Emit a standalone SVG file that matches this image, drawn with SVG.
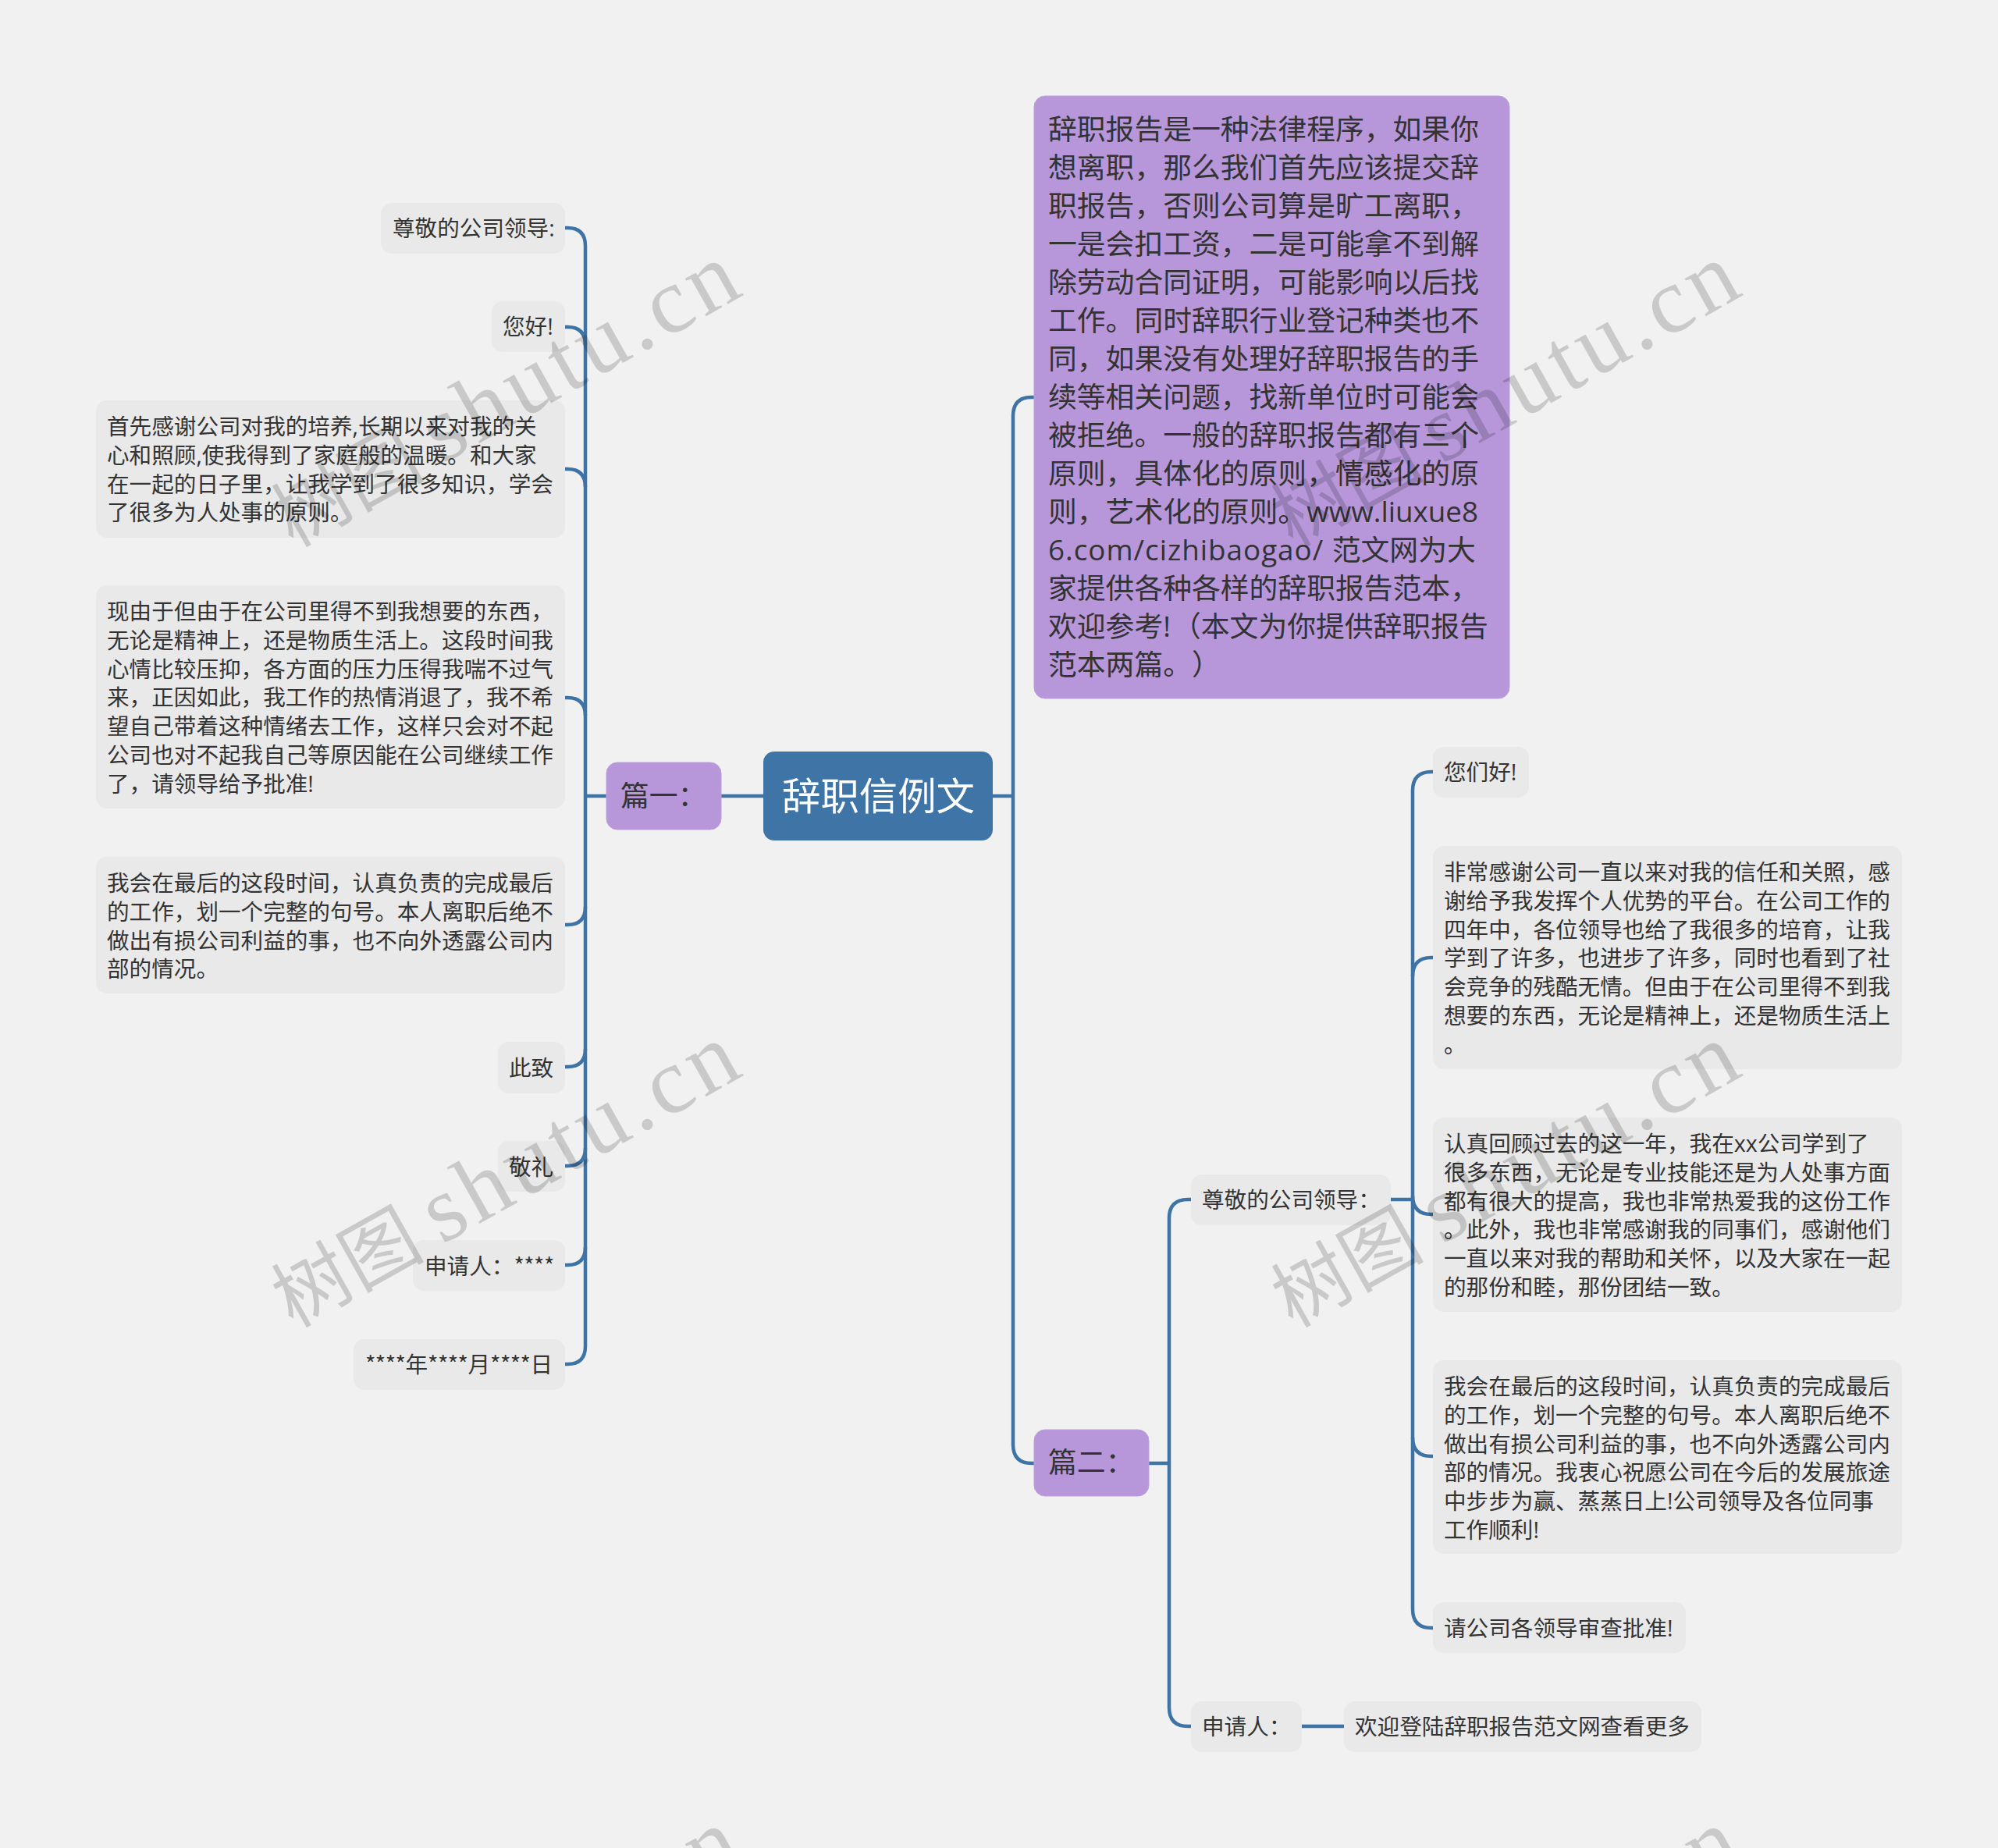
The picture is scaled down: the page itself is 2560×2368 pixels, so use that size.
<svg xmlns="http://www.w3.org/2000/svg" width="2560" height="2368" viewBox="0 0 2560 2368">
<style>
text{font-family:"Open Sans","Noto Sans CJK SC",sans-serif;fill:#333}
.leaf{fill:#e9e9e9}
.pur{fill:#b797da;stroke:#bd9fdf;stroke-width:1}
.s{font-size:28.6px}
.m{font-size:36.8px}
.r{font-size:49.4px;fill:#fff}
.c{fill:none;stroke:#3d74a5;stroke-width:4.5;stroke-linecap:butt}
.star{font-family:"Noto Sans CJK SC",sans-serif;letter-spacing:-.5px}
text.wm{font-family:"Noto Sans CJK SC",sans-serif;font-size:98px;fill:#000;fill-opacity:.165}
.wl{font-family:"Liberation Serif",serif;font-size:120px;letter-spacing:6px}
</style>
<rect width="2560" height="2368" fill="#f1f1f1"/>
<g id="connectors" class="c">
<path d="M1272 1020H1298"/>
<path d="M1325 509H1322Q1298 509 1298 533V1851Q1298 1875 1322 1875H1325"/>
<path d="M978 1020H924"/>
<path d="M777 1020H750"/>
<path d="M724 292H727Q750 292 750 315V1725Q750 1748 727 1748H724"/>
<path d="M724 419H727Q750 419 750 442"/>
<path d="M724 601H727Q750 601 750 624"/>
<path d="M724 894H727Q750 894 750 917"/>
<path d="M724 1185H727Q750 1185 750 1162"/>
<path d="M724 1367H727Q750 1367 750 1344"/>
<path d="M724 1494H727Q750 1494 750 1471"/>
<path d="M724 1621H727Q750 1621 750 1598"/>
<path d="M1472 1875H1498"/>
<path d="M1526 1537H1522Q1498 1537 1498 1561V2188Q1498 2212 1522 2212H1526"/>
<path d="M1668 2212H1722"/>
<path d="M1782 1537H1810"/>
<path d="M1836 989H1834Q1810 989 1810 1013V2062Q1810 2086 1834 2086H1836"/>
<path d="M1836 1227H1834Q1810 1227 1810 1251"/>
<path d="M1836 1556H1834Q1810 1556 1810 1532"/>
<path d="M1836 1866H1834Q1810 1866 1810 1842"/>
</g>
<g id="root"><rect x="978" y="963" width="294" height="114" rx="14" fill="#3e75a6"/><text class="r" x="1002" y="1038">辞职信例文</text></g>
<g id="p1"><rect class="pur" x="777" y="977" width="147" height="86" rx="14"/><text class="m" x="795" y="1033">篇一：</text></g>
<g id="p2"><rect class="pur" x="1325" y="1832" width="147" height="85" rx="14"/><text class="m" x="1343" y="1887">篇二：</text></g>
<g id="intro"><rect class="pur" x="1325" y="123" width="609" height="772" rx="14"/>
<text class="m"><tspan x="1343" y="179">辞职报告是一种法律程序，如果你</tspan><tspan x="1343" dy="49">想离职，那么我们首先应该提交辞</tspan><tspan x="1343" dy="49">职报告，否则公司算是旷工离职，</tspan><tspan x="1343" dy="49">一是会扣工资，二是可能拿不到解</tspan><tspan x="1343" dy="49">除劳动合同证明，可能影响以后找</tspan><tspan x="1343" dy="49">工作。同时辞职行业登记种类也不</tspan><tspan x="1343" dy="49">同，如果没有处理好辞职报告的手</tspan><tspan x="1343" dy="49">续等相关问题，找新单位时可能会</tspan><tspan x="1343" dy="49">被拒绝。一般的辞职报告都有三个</tspan><tspan x="1343" dy="49">原则，具体化的原则，情感化的原</tspan><tspan x="1343" dy="49">则，艺术化的原则。www.liuxue8</tspan><tspan x="1343" dy="49" letter-spacing="1">6.com/cizhibaogao/ </tspan><tspan>范文网为大</tspan><tspan x="1343" dy="49">家提供各种各样的辞职报告范本，</tspan><tspan x="1343" dy="49">欢迎参考!</tspan><tspan x="1502">（本文为你提供辞职报告</tspan><tspan x="1343" dy="49">范本两篇。</tspan><tspan x="1527">）</tspan></text></g>
<g id="l1"><rect class="leaf" x="488" y="260" width="236" height="65" rx="14"/><text class="s" x="503" y="303">尊敬的公司领导:</text></g>
<g id="l2"><rect class="leaf" x="630" y="386" width="94" height="65" rx="14"/><text class="s" x="644" y="429">您好!</text></g>
<g id="l3"><rect class="leaf" x="123" y="513" width="601" height="176" rx="14"/>
<text class="s"><tspan x="137" y="557">首先感谢公司对我的培养,长期以来对我的关</tspan><tspan x="137" dy="36.8">心和照顾,使我得到了家庭般的温暖。和大家</tspan><tspan x="137" dy="36.8">在一起的日子里，让我学到了很多知识，学会</tspan><tspan x="137" dy="36.8">了很多为人处事的原则。</tspan></text></g>
<g id="l4"><rect class="leaf" x="123" y="750" width="601" height="286" rx="14"/>
<text class="s"><tspan x="137" y="794">现由于但由于在公司里得不到我想要的东西，</tspan><tspan x="137" dy="36.8">无论是精神上，还是物质生活上。这段时间我</tspan><tspan x="137" dy="36.8">心情比较压抑，各方面的压力压得我喘不过气</tspan><tspan x="137" dy="36.8">来，正因如此，我工作的热情消退了，我不希</tspan><tspan x="137" dy="36.8">望自己带着这种情绪去工作，这样只会对不起</tspan><tspan x="137" dy="36.8">公司也对不起我自己等原因能在公司继续工作</tspan><tspan x="137" dy="36.8">了，请领导给予批准!</tspan></text></g>
<g id="l5"><rect class="leaf" x="123" y="1098" width="601" height="175" rx="14"/>
<text class="s"><tspan x="137" y="1142">我会在最后的这段时间，认真负责的完成最后</tspan><tspan x="137" dy="36.8">的工作，划一个完整的句号。本人离职后绝不</tspan><tspan x="137" dy="36.8">做出有损公司利益的事，也不向外透露公司内</tspan><tspan x="137" dy="36.8">部的情况。</tspan></text></g>
<g id="l6"><rect class="leaf" x="638" y="1335" width="86" height="66" rx="14"/><text class="s" x="652" y="1379">此致</text></g>
<g id="l7"><rect class="leaf" x="638" y="1462" width="86" height="65" rx="14"/><text class="s" x="652" y="1506">敬礼</text></g>
<g id="l8"><rect class="leaf" x="529" y="1589" width="195" height="65" rx="14"/><text class="s" x="544" y="1633">申请人：<tspan class="star">****</tspan></text></g>
<g id="l9"><rect class="leaf" x="453" y="1716" width="271" height="65" rx="14"/><text class="s" x="468" y="1759"><tspan class="star">****</tspan>年<tspan class="star">****</tspan>月<tspan class="star">****</tspan>日</text></g>
<g id="r1"><rect class="leaf" x="1526" y="1505" width="256" height="65" rx="14"/><text class="s" x="1540" y="1548">尊敬的公司领导：</text></g>
<g id="r2"><rect class="leaf" x="1526" y="2180" width="142" height="65" rx="14"/><text class="s" x="1540" y="2223">申请人：</text></g>
<g id="r3"><rect class="leaf" x="1722" y="2180" width="458" height="65" rx="14"/><text class="s" x="1736" y="2223">欢迎登陆辞职报告范文网查看更多</text></g>
<g id="a1"><rect class="leaf" x="1836" y="957" width="123" height="65" rx="14"/><text class="s" x="1850" y="1000">您们好!</text></g>
<g id="a2"><rect class="leaf" x="1836" y="1084" width="601" height="286" rx="14"/>
<text class="s"><tspan x="1850" y="1128">非常感谢公司一直以来对我的信任和关照，感</tspan><tspan x="1850" dy="36.8">谢给予我发挥个人优势的平台。在公司工作的</tspan><tspan x="1850" dy="36.8">四年中，各位领导也给了我很多的培育，让我</tspan><tspan x="1850" dy="36.8">学到了许多，也进步了许多，同时也看到了社</tspan><tspan x="1850" dy="36.8">会竞争的残酷无情。但由于在公司里得不到我</tspan><tspan x="1850" dy="36.8">想要的东西，无论是精神上，还是物质生活上</tspan><tspan x="1850" dy="36.8">。</tspan></text></g>
<g id="a3"><rect class="leaf" x="1836" y="1432" width="601" height="249" rx="14"/>
<text class="s"><tspan x="1850" y="1476">认真回顾过去的这一年，我在xx公司学到了</tspan><tspan x="1850" dy="36.8">很多东西，无论是专业技能还是为人处事方面</tspan><tspan x="1850" dy="36.8">都有很大的提高，我也非常热爱我的这份工作</tspan><tspan x="1850" dy="36.8">。此外，我也非常感谢我的同事们，感谢他们</tspan><tspan x="1850" dy="36.8">一直以来对我的帮助和关怀，以及大家在一起</tspan><tspan x="1850" dy="36.8">的那份和睦，那份团结一致。</tspan></text></g>
<g id="a4"><rect class="leaf" x="1836" y="1743" width="601" height="248" rx="14"/>
<text class="s"><tspan x="1850" y="1787">我会在最后的这段时间，认真负责的完成最后</tspan><tspan x="1850" dy="36.8">的工作，划一个完整的句号。本人离职后绝不</tspan><tspan x="1850" dy="36.8">做出有损公司利益的事，也不向外透露公司内</tspan><tspan x="1850" dy="36.8">部的情况。我衷心祝愿公司在今后的发展旅途</tspan><tspan x="1850" dy="36.8">中步步为赢、蒸蒸日上!公司领导及各位同事</tspan><tspan x="1850" dy="36.8">工作顺利!</tspan></text></g>
<g id="a5"><rect class="leaf" x="1836" y="2053" width="324" height="65" rx="14"/><text class="s" x="1850" y="2097">请公司各领导审查批准!</text></g>
<g id="watermarks">
<text class="wm" transform="translate(356 713) rotate(-29.3)"><tspan x="22">树图</tspan><tspan class="wl" x="241">shutu.cn</tspan></text>
<text class="wm" transform="translate(1637 713) rotate(-29.3)"><tspan x="22">树图</tspan><tspan class="wl" x="241">shutu.cn</tspan></text>
<text class="wm" transform="translate(356 1713) rotate(-29.3)"><tspan x="22">树图</tspan><tspan class="wl" x="241">shutu.cn</tspan></text>
<text class="wm" transform="translate(1637 1713) rotate(-29.3)"><tspan x="22">树图</tspan><tspan class="wl" x="241">shutu.cn</tspan></text>
<text class="wm" transform="translate(356 2719) rotate(-29.3)"><tspan x="22">树图</tspan><tspan class="wl" x="241">shutu.cn</tspan></text>
<text class="wm" transform="translate(1637 2719) rotate(-29.3)"><tspan x="22">树图</tspan><tspan class="wl" x="241">shutu.cn</tspan></text>
</g>
</svg>
